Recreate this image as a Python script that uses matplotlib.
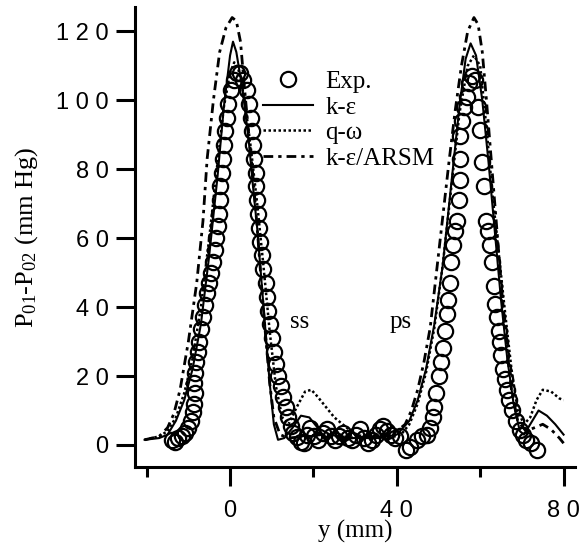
import matplotlib
matplotlib.use('Agg')
import matplotlib.pyplot as plt

plt.rcParams['mathtext.fontset'] = 'custom'
plt.rcParams['mathtext.rm'] = 'Liberation Serif'
plt.rcParams['mathtext.it'] = 'Liberation Serif:italic'

# experimental total-pressure loss, y (mm) vs P01-P02 (mm Hg)
exp_y = [-14.0, -13.2, -12.4, -11.6, -10.8, -10.0, -9.3, -8.9, -8.7, -8.5, -8.6, -8.4, -8.1,
         -7.8, -7.4, -7.0, -6.6, -6.0, -5.5, -5.0, -4.5, -4.0, -3.6, -3.3, -3.0, -2.7, -2.5,
         -2.3, -2.0, -1.7, -1.4, -1.1, -0.8, -0.4, 0.2, 0.9, 1.6, 2.4, 3.2, 4.0, 4.5, 4.9,
         5.2, 5.5, 5.8, 6.1, 6.3, 6.5, 6.7, 6.9, 7.2, 7.6, 8.0, 8.5, 8.9, 9.2, 9.6, 10.0,
         10.5, 11.0, 11.6, 12.2, 12.8, 13.3, 13.9, 14.5, 15.1, 16.0, 17.0, 17.8, 18.5, 19.2,
         20.2, 21.2, 22.2, 23.2, 24.2, 25.2, 26.2, 27.2, 28.2, 29.2, 30.2, 31.2, 32.2, 33.0,
         34.0, 35.0, 36.0, 36.8, 37.6, 38.6, 39.6, 40.8, 42.2, 43.2, 44.8, 46.0, 47.2, 48.0,
         48.6, 49.0, 49.5, 50.0, 50.5, 51.0, 51.5, 52.0, 52.3, 52.8, 53.0, 53.5, 54.0, 54.4,
         54.8, 55.2, 55.2, 55.2, 55.6, 56.0, 56.8, 57.4, 58.0, 58.8, 59.5, 60.0, 60.4, 61.0,
         61.5, 61.9, 62.4, 62.8, 63.2, 63.6, 64.0, 64.4, 64.7, 65.1, 65.5, 66.0, 66.4, 67.0,
         67.6, 68.5, 69.5, 70.3, 71.0, 72.3, 73.6]
exp_dp = [1.5, 1.0, 2.0, 2.5, 3.5, 5.0, 7.0, 9.5, 12, 15, 18, 21, 24,
          27, 30, 33.5, 37, 40.5, 44, 47, 50, 53, 56.5, 60, 63.5, 67, 71,
          75, 79, 83, 87, 91, 95, 99, 103, 106, 108, 108, 106, 103, 99, 95,
          91, 87, 83, 79, 75, 71, 67, 63, 59, 55, 51, 47, 43, 39, 35, 31,
          27, 23.5, 20, 17, 14, 11, 8, 5.5, 3.5, 2.3, 1.0, 0.5, 3.0, 5.0,
          2.5, 1.5, 3.5, 4.5, 2.5, 1.5, 2.5, 3.5, 2.0, 1.5, 3.0, 4.5, 2.0, 0.5,
          1.5, 3.0, 4.5, 5.5, 4.0, 3.0, 2.0, 2.5, -1.5, -0.6, 1.5, 2.5, 3.0, 5.0,
          8, 11, 15, 20, 24, 28, 33, 38, 42, 47, 53, 58, 62, 65,
          71, 77, 83, 89.5, 94, 98, 101, 105, 107, 106, 98, 91.5, 82, 75,
          65, 62, 58, 53, 46, 41, 37, 33, 30, 26, 22, 19, 16, 13,
          10, 7, 4.4, 3.0, 1.5, 0.5, -1.5]

# k-epsilon
ke_y = [-20.5, -17, -15, -13, -11, -9, -7, -5, -3, -1.5, 0, 0.7, 1.5, 3, 4.5, 5.5, 6.5,
        7.5, 8.5, 9.5, 10.5, 11.5, 13, 15, 17, 19, 21, 24, 28, 32, 36, 40, 43, 45, 47,
        49, 51, 53, 55, 56.5, 57.7, 59, 60.5, 62, 63.5, 65, 66.5, 68, 69.5, 70.5, 72,
        74, 76, 78, 80]
ke_dp = [1.5, 2, 3, 7, 13, 22, 35, 55, 78, 98, 113, 117, 114, 103, 88, 75, 63,
         48, 33, 18, 6, 1.5, 2, 5, 8.5, 8, 5, 3, 2, 2, 2, 3, 7, 13, 22,
         35, 52, 75, 98, 112, 116.5, 113, 100, 82, 62, 42, 25, 12, 4, 3, 6,
         10, 8.5, 6, 3]

# q-omega
qw_y = [-20.5, -17, -15, -13, -11, -9, -7, -5, -3, -1.5, 0, 1, 2, 3.5, 5, 6.5, 8, 9.5,
        11, 12.5, 14, 16, 18, 19.5, 21, 23, 25, 27, 30, 34, 38, 41, 43, 45, 47, 49, 51,
        53, 55, 57, 58.5, 60, 61.5, 63, 64.5, 66, 67.5, 69, 70.5, 72, 73.5, 75, 77, 79, 80]
qw_dp = [1.5, 2.5, 4, 8, 15, 25, 40, 60, 82, 98, 108, 111, 109, 100, 86, 70, 52, 33,
         17, 8, 6, 11, 15.5, 16, 14, 11, 8, 6, 3, 2, 2, 3, 6, 12, 21, 34, 52,
         74, 96, 110, 113, 110, 92, 72, 55, 38, 22, 10, 6, 8, 13, 16, 15.5, 13.5, 13]

# k-epsilon / ARSM
ar_y = [-20.5, -17, -15, -13.5, -12, -10, -8, -6.5, -5.5, -4, -2.5, -1, 0.5, 1.5, 2.5,
        3.5, 4.5, 5.5, 6.5, 7.5, 8.5, 9.5, 10.5, 12, 14, 18, 22, 26, 30, 34, 38, 40, 42,
        43.5, 45, 46.5, 48, 49.5, 51, 52.5, 54, 55.5, 57, 58.5, 59.5, 60.5, 61.5, 62.5,
        63.5, 64.5, 65.5, 66.5, 67.5, 69, 71, 73, 75, 77, 79, 80]
ar_dp = [1.5, 2.5, 5, 9, 16, 30, 47, 65, 83, 100, 114, 121, 124, 123, 117,
         103, 90, 78, 63, 47, 32, 18, 8, 3, 2, 2.5, 3, 2.5, 2, 2.5, 3, 4, 6,
         10, 16, 24, 34, 50, 66, 82, 97, 110, 120, 124, 122, 114, 100, 85,
         70, 55, 40, 27, 16, 7, 4, 5, 6, 4.5, 2, 0.5]

yticks = [0, 20, 40, 60, 80, 100, 120]
ytick_labels = ['0', '2 0', '4 0', '6 0', '8 0', '1 0 0', '1 2 0']
xticks = [0, 40, 80]
xtick_labels = ['0', '4 0', '8 0']
xticks_minor = [-20, 20, 60]

serif = 'Liberation Serif'
sans = 'Liberation Sans'

fig = plt.figure(figsize=(5.83, 5.54), dpi=100)
ax = fig.add_axes([0.2316, 0.157, 0.7544, 0.83])

ax.plot(ke_y, ke_dp, color='k', linewidth=1.5, linestyle='-', label='k-ε', zorder=3)
ax.plot(qw_y, qw_dp, color='k', linewidth=1.8, linestyle=(0, (1, 1)), label='q-ω', zorder=3)
ax.plot(ar_y, ar_dp, color='k', linewidth=2.0, linestyle=(0, (3.5, 1.8, 1.2, 1.8)),
        label='k-ε/ARSM', zorder=3)
ax.plot(exp_y, exp_dp, linestyle='none', marker='o', markersize=11, markerfacecolor='none',
        markeredgecolor='k', markeredgewidth=1.6, label='Exp.', zorder=4)

ax.set_xlim(-22.8, 82.7)
ax.set_ylim(-6.4, 127)

for s in ['top', 'right']:
    ax.spines[s].set_visible(False)
for s in ['left', 'bottom']:
    ax.spines[s].set_linewidth(2.2)

ax.set_yticks(yticks)
ax.set_yticklabels(ytick_labels, family=sans, fontsize=17)
ax.set_xticks(xticks)
ax.set_xticklabels(xtick_labels, family=sans, fontsize=17)
ax.set_xticks(xticks_minor, minor=True)
ax.tick_params(axis='y', length=14, width=2.2, pad=5)
ax.tick_params(axis='x', which='major', length=14, width=2.2, pad=10)
ax.tick_params(axis='x', which='minor', length=7, width=2.2)

ax.set_ylabel('P$_{01}$-P$_{02}$ (mm Hg)', family=serif, fontsize=19)
ax.yaxis.set_label_coords(-0.215, 0.5)
ax.set_xlabel('y (mm)', family=serif, fontsize=18)
ax.xaxis.set_label_coords(0.5, -0.115)

ax.text(16.8, 35.8, 'ss', family=serif, fontsize=18, ha='center', va='center')
ax.text(40.8, 35.8, 'ps', family=serif, fontsize=18, ha='center', va='center')

handles, labels = ax.get_legend_handles_labels()
order = [3, 0, 1, 2]
ax.legend([handles[i] for i in order], [labels[i] for i in order],
          loc='upper left', bbox_to_anchor=(0.291, 0.862), frameon=False,
          prop={'family': serif, 'size': 18}, handlelength=2.0, handletextpad=0.5,
          labelspacing=0.12, borderpad=0, borderaxespad=0)

fig.savefig('out.png', dpi=100)
